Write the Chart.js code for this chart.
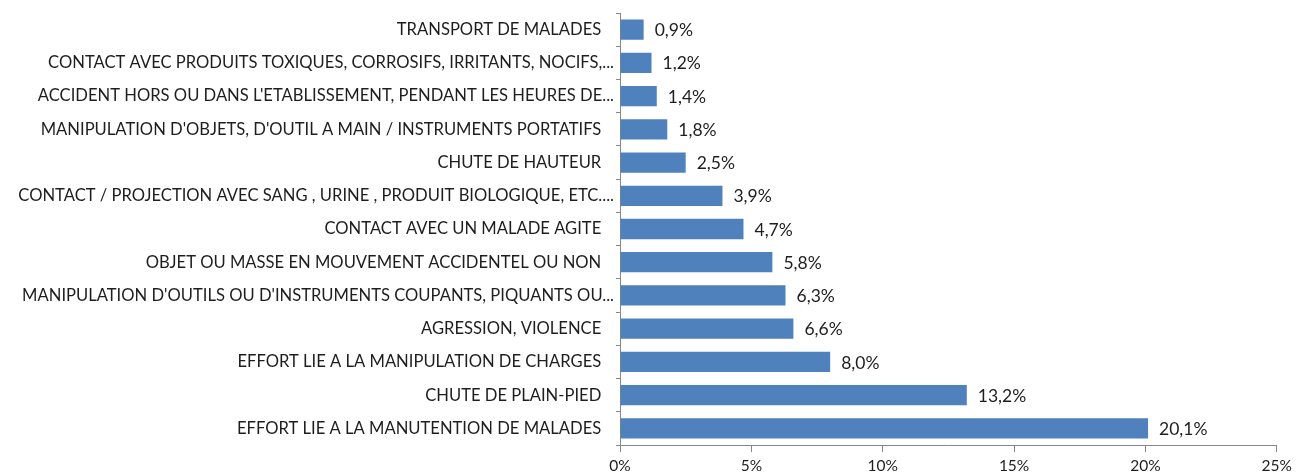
<!DOCTYPE html>
<html>
<head>
<meta charset="utf-8">
<script src="https://cdn.jsdelivr.net/npm/chart.js@4"></script>
<style>
  html, body { margin: 0; padding: 0; background: #fff; }
  #wrap { width: 1297px; height: 476px; }
</style>
</head>
<body>
<div id="wrap"><canvas id="grafico-barras"></canvas></div>
<script>
// categorias (de cima para baixo)
const categorias = [
    'TRANSPORT DE MALADES',
    'CONTACT AVEC PRODUITS TOXIQUES, CORROSIFS, IRRITANTS, NOCIFS,...',
    "ACCIDENT HORS OU DANS L'ETABLISSEMENT, PENDANT LES HEURES DE...",
    "MANIPULATION D'OBJETS, D'OUTIL A MAIN / INSTRUMENTS PORTATIFS",
    'CHUTE DE HAUTEUR',
    'CONTACT / PROJECTION AVEC SANG , URINE , PRODUIT BIOLOGIQUE, ETC....',
    'CONTACT AVEC UN MALADE AGITE',
    'OBJET OU MASSE EN MOUVEMENT ACCIDENTEL OU NON',
    "MANIPULATION D'OUTILS OU D'INSTRUMENTS COUPANTS, PIQUANTS OU...",
    'AGRESSION, VIOLENCE',
    'EFFORT LIE A LA MANIPULATION DE CHARGES',
    'CHUTE DE PLAIN-PIED',
    'EFFORT LIE A LA MANUTENTION DE MALADES'
];
const valores = [0.9, 1.2, 1.4, 1.8, 2.5, 3.9, 4.7, 5.8, 6.3, 6.6, 8.0, 13.2, 20.1];
const ticksX = [0, 5, 10, 15, 20, 25];

const fonte = 'Lato';

// plugin simples para escrever os valores ao lado das barras
const rotulos = {
    id: 'rotulos',
    afterDatasetsDraw(chart) {
        const ctx = chart.ctx;
        const meta = chart.getDatasetMeta(0);
        ctx.save();
        ctx.font = '17.5px ' + fonte;
        ctx.fillStyle = '#1e1e1e';
        ctx.textAlign = 'left';
        ctx.textBaseline = 'middle';
        meta.data.forEach((bar, i) => {
            const txt = valores[i].toFixed(1).replace('.', ',') + '%';
            ctx.fillText(txt, bar.x + 11, bar.y + 1);
        });
        ctx.restore();
    }
};

function gerarGraficoBarras() {
    const el = document.getElementById('grafico-barras');
    new Chart(el, {
        type: 'bar',
        data: {
            labels: categorias,
            datasets: [{
                data: valores,
                backgroundColor: '#4f81bd',
                borderWidth: 0,
                barPercentage: 0.61,
                categoryPercentage: 1
            }]
        },
        options: {
            indexAxis: 'y',
            responsive: true,
            maintainAspectRatio: false,
            animation: false,
            layout: { padding: { top: 13, right: 20, left: 0, bottom: 0 } },
            plugins: {
                legend: { display: false },
                tooltip: { enabled: false }
            },
            scales: {
                x: {
                    min: ticksX[0],
                    max: ticksX[ticksX.length - 1],
                    afterBuildTicks(scale) {
                        scale.ticks = ticksX.map(v => ({ value: v }));
                    },
                    afterFit(scale) { scale.height = 31; },
                    border: { display: true, color: '#878787', width: 1 },
                    grid: {
                        display: true,
                        drawOnChartArea: false,
                        drawTicks: true,
                        tickLength: 7,
                        color: '#878787'
                    },
                    ticks: {
                        color: '#1e1e1e',
                        font: { family: fonte, size: 15.5 },
                        padding: 5,
                        callback: v => v + '%'
                    }
                },
                y: {
                    afterFit(scale) { scale.width = 620; },
                    border: { display: true, color: '#878787', width: 1 },
                    grid: {
                        display: true,
                        offset: true,
                        drawOnChartArea: false,
                        drawTicks: true,
                        tickLength: 4,
                        color: '#878787'
                    },
                    ticks: {
                        color: '#1e1e1e',
                        font: { family: fonte, size: 16.6 },
                        padding: 2,
                        autoSkip: false,
                        // rótulos cortados ("...") ficam mais perto do eixo
                        callback(v, i) {
                            const t = categorias[i];
                            return t.endsWith('...') ? t : t + '   ';
                        }
                    }
                }
            }
        },
        plugins: [rotulos]
    });
}

window.addEventListener('load', () => {
    gerarGraficoBarras();
});
</script>
</body>
</html>
